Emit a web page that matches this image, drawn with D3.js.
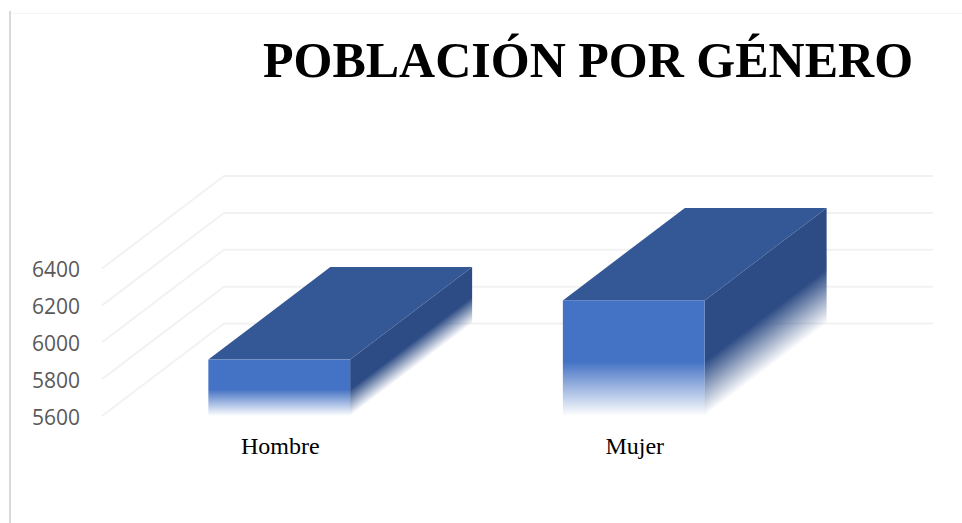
<!DOCTYPE html>
<html>
<head>
<meta charset="utf-8">
<script src="https://cdn.jsdelivr.net/npm/d3@7"></script>
<style>
html, body { margin: 0; padding: 0; background: #fff; overflow: hidden; }
</style>
</head>
<body>
<div id="chart"></div>
<script>
'use strict';
var categories = ['Hombre', 'Mujer'];
var poblacion = [5906, 6227];
var yTicks = [5600, 5800, 6000, 6200, 6400];
var titulo = 'POBLACIÓN POR GÉNERO';

var width = 962;
var height = 523;

// Offset from the front plane to the back wall of the fake 3D box.
var depth = {x: 122, y: -92.5};

var svg = d3.select('#chart').append('svg')
    .attr('width', width)
    .attr('height', height)
    .style('display', 'block');

var xScale = d3.scaleBand()
    .domain(categories)
    .range([102, 811])
    .paddingInner(0.6)
    .paddingOuter(0.3);
var yScale = d3.scaleLinear()
    .domain([5600, 6400])
    .range([416, 268.5]);

// Frame of the picture.
svg.append('line')
    .attr('x1', 10).attr('x2', 962)
    .attr('y1', 13.5).attr('y2', 13.5)
    .attr('stroke', '#f4f4f4');
svg.append('line')
    .attr('x1', 10).attr('x2', 10)
    .attr('y1', 11).attr('y2', 523)
    .attr('stroke', '#d9d9d9')
    .attr('stroke-width', 2);

var defs = svg.append('defs');

function addFade(id, color, solidTo) {
    var grad = defs.append('linearGradient')
        .attr('id', id)
        .attr('x1', 0).attr('x2', 0)
        .attr('y1', 0).attr('y2', 1);
    grad.append('stop').attr('offset', 0).attr('stop-color', color);
    grad.append('stop').attr('offset', solidTo).attr('stop-color', color);
    grad.append('stop').attr('offset', 1).attr('stop-color', color).attr('stop-opacity', 0);
}
addFade('fade-front', '#4472c4', 0.53);
addFade('fade-side', '#2d4c85', 0.53);

// Gridlines: side wall, then back wall.
var grid = svg.append('g')
    .attr('fill', 'none')
    .attr('stroke', '#f2f2f2')
    .attr('stroke-width', 2);
grid.selectAll('path')
    .data(yTicks)
    .enter()
    .append('path')
    .attr('d', function(d) {
        var y = yScale(d);
        return 'M' + xScale.range()[0] + ',' + y +
            'L' + (xScale.range()[0] + depth.x) + ',' + (y + depth.y) +
            'H' + (xScale.range()[1] + depth.x);
    });

// y-axis labels.
var yAxis = d3.axisLeft(yScale)
    .tickValues(yTicks)
    .tickSize(0)
    .tickPadding(0)
    .tickFormat(d3.format('d'));
var yAxisEle = svg.append('g')
    .attr('transform', 'translate(80,0)')
    .call(yAxis);
yAxisEle.select('.domain').remove();
yAxisEle.selectAll('text')
    .attr('font-family', '"Open Sans", sans-serif')
    .attr('font-size', 21)
    .attr('fill', '#595959')
    .attr('dy', '0.39em');

// Category labels.
var xAxis = d3.axisBottom(xScale).tickSize(0).tickPadding(0);
var xAxisEle = svg.append('g')
    .attr('transform', 'translate(1,437)')
    .call(xAxis);
xAxisEle.select('.domain').remove();
xAxisEle.selectAll('text')
    .attr('font-family', '"Liberation Serif", serif')
    .attr('font-size', 24)
    .attr('fill', '#000');

// Columns.
var cols = svg.selectAll('g.col')
    .data(categories)
    .enter()
    .append('g')
    .attr('class', 'col');

// Top face.
cols.append('path')
    .attr('fill', '#345795')
    .attr('d', function(d, i) {
        var x0 = xScale(d);
        var x1 = x0 + xScale.bandwidth();
        var y = yScale(poblacion[i]);
        return 'M' + x0 + ',' + y + 'H' + x1 +
            'L' + (x1 + depth.x) + ',' + (y + depth.y) +
            'H' + (x0 + depth.x) + 'Z';
    });

// Side face: a rect sheared back so that the fade follows the slanted edge.
cols.append('rect')
    .attr('fill', 'url(#fade-side)')
    .attr('width', 1)
    .attr('height', function(d, i) {
        return yScale(5600) - yScale(poblacion[i]);
    })
    .attr('transform', function(d, i) {
        var x1 = xScale(d) + xScale.bandwidth();
        return 'matrix(' + depth.x + ',' + depth.y + ',0,1,' + x1 + ',' + yScale(poblacion[i]) + ')';
    });

// Front face.
cols.append('rect')
    .attr('fill', 'url(#fade-front)')
    .attr('x', function(d) { return xScale(d); })
    .attr('y', function(d, i) { return yScale(poblacion[i]); })
    .attr('width', xScale.bandwidth())
    .attr('height', function(d, i) {
        return yScale(5600) - yScale(poblacion[i]);
    });

// Title.
svg.append('text')
    .attr('x', 588)
    .attr('y', 77)
    .attr('text-anchor', 'middle')
    .attr('font-family', '"Liberation Serif", serif')
    .attr('font-weight', 'bold')
    .attr('font-size', 50)
    .attr('fill', '#000')
    .text(titulo);
</script>
</body>
</html>
